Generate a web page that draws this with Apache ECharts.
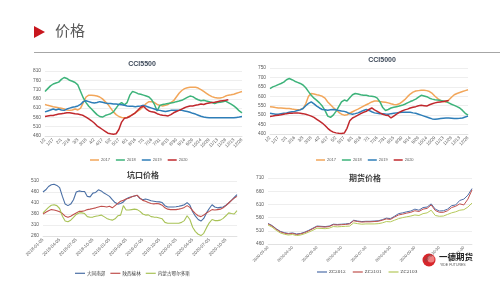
<!DOCTYPE html>
<html><head><meta charset="utf-8">
<script src="https://cdn.jsdelivr.net/npm/echarts@6/dist/echarts.min.js"></script>
<style>html,body{margin:0;padding:0;background:#fff;}#c{width:500px;height:281px;}</style>
</head><body><div id="c"></div>
<script>
// ---- Top charts: categories every 5 days ----
const dayCats = ["1/2","1/7","1/12","1/17","1/22","1/27","2/1","2/6","2/11","2/16","2/21","2/26","3/3","3/8","3/13","3/18","3/23","3/28","4/2","4/7","4/12","4/17","4/22","4/27","5/2","5/7","5/12","5/17","5/22","5/27","6/1","6/6","6/11","6/16","6/21","6/26","7/1","7/6","7/11","7/16","7/21","7/26","7/31","8/5","8/10","8/15","8/20","8/25","8/30","9/4","9/9","9/14","9/19","9/24","9/29","10/4","10/9","10/14","10/19","10/24","10/29","11/3","11/8","11/13","11/18","11/23","11/28","12/3","12/8","12/13","12/18","12/23","12/28"];
const yearNames = ["2017","2018","2019","2020"];

const cci5500_2017 = [630,625,622,618,615,612,610,605,600,598,600,605,600,610,640,670,680,680,678,675,670,660,645,630,610,590,575,565,560,558,560,568,575,585,595,605,620,635,645,645,640,630,625,622,625,630,640,650,670,690,705,715,720,722,722,722,718,710,700,690,680,672,667,665,665,668,675,680,682,685,690,695,700];
const cci5500_2018 = [700,715,730,740,745,750,765,775,770,760,755,748,735,700,665,640,620,605,590,575,565,562,570,575,580,590,610,630,640,628,640,680,700,695,688,685,680,675,670,655,630,595,625,630,632,635,638,640,645,648,652,660,668,675,672,662,655,650,652,648,645,640,635,640,642,645,648,640,632,622,610,595,585];
const cci5500_2019 = [590,595,600,605,600,605,600,598,605,610,615,618,622,630,645,650,645,640,638,640,645,642,638,635,635,632,632,630,628,625,622,620,620,618,620,622,625,620,615,610,605,600,598,595,592,595,598,598,598,598,598,595,592,588,582,578,572,566,562,560,558,558,558,558,558,558,558,558,558,558,560,562,565];
const cci5500_2020 = [565,568,570,570,575,578,580,582,585,585,583,580,578,575,570,562,552,542,530,515,505,495,485,475,472,470,472,495,535,555,558,565,575,585,600,615,620,605,595,590,588,580,575,572,570,568,575,585,592,598,605,612,618,622,622,625,628,632,630,635,638,640,642,645,648,650,652,655,null,null,null,null,null];

const cci5000_2017 = [545,543,540,538,538,537,535,535,532,530,528,530,535,560,600,615,612,608,605,600,590,570,555,540,528,515,505,500,502,510,518,525,532,540,548,555,562,570,575,575,572,570,568,565,560,556,555,560,570,582,598,612,622,628,630,632,632,630,625,615,600,588,578,572,570,580,595,608,615,620,625,630,635];
const cci5000_2018 = [641,650,655,662,668,675,688,694,688,680,674,668,660,645,625,605,590,578,565,548,525,495,488,500,520,545,570,580,575,592,608,615,612,608,605,605,602,600,598,590,570,540,525,530,538,542,545,548,552,558,565,572,578,585,595,605,602,598,590,585,582,580,578,575,572,565,558,552,545,538,525,510,500];
const cci5000_2019 = [510,508,505,505,508,510,512,515,518,520,525,528,535,550,562,570,560,548,538,530,528,526,528,530,528,525,522,520,515,508,505,508,512,518,525,530,525,518,512,510,508,508,506,505,508,510,512,514,515,515,515,515,512,510,505,500,495,490,485,480,478,480,482,484,485,485,484,482,482,483,485,490,495];
const cci5000_2020 = [493,495,498,500,502,505,508,510,510,512,512,510,508,505,500,495,488,478,468,458,445,430,418,410,406,404,403,405,430,470,485,492,500,508,515,520,530,538,528,520,512,505,500,498,485,495,505,515,522,528,532,538,542,545,550,552,550,548,555,560,565,568,570,572,575,578,null,null,null,null,null,null,null];

// ---- Bottom-left: 坑口价格 (semi-monthly, 5th & 20th) ----
const pitYears = ["2018","2019","2020"];
const pitMonths = ["01","02","03","04","05","06","07","08","09","10","11","12"];
const pitDays = ["05","20"];
const pitCats = [];
pitYears.forEach(y => pitMonths.forEach(m => pitDays.forEach(d => pitCats.push(y + "-" + m + "-" + d))));
pitCats.length = 71; // through 2020-12-05
const pitNames = ["大同南郊","陕西榆林","内蒙古鄂尔多斯"];
const pitDatong = [460,470,485,493,495,490,480,440,405,398,405,425,460,465,462,462,440,438,455,458,470,465,455,448,440,425,412,405,408,415,428,435,438,442,445,430,425,428,425,420,418,416,415,412,398,392,392,392,393,395,398,402,412,400,370,350,335,328,340,365,385,402,392,388,390,392,400,410,422,435,448];
const pitYulin = [360,368,375,380,378,375,370,362,350,345,350,358,365,372,372,375,380,382,385,388,392,395,394,392,395,388,398,408,418,422,428,432,438,442,445,432,422,418,412,408,406,408,406,400,388,382,380,380,380,382,385,390,398,390,375,362,352,348,355,365,372,380,378,380,382,388,398,410,422,432,440];
const pitOrdos = [365,378,390,400,402,398,385,350,328,325,332,345,358,365,365,362,348,345,346,350,352,355,348,340,335,332,338,352,355,398,378,378,380,382,380,372,360,355,356,348,346,345,342,338,322,318,318,318,318,318,322,330,352,335,300,280,268,262,272,298,320,335,330,330,332,340,352,365,362,360,375];

// ---- Bottom-right: 期货价格 ----
const futMonths = ["04","05","06","07","08","09","10","11"];
const futDays = ["05","10","15","20","25","30"];
const futCats = ["2020-03-30"];
futMonths.forEach(m => futDays.forEach(d => futCats.push("2020-" + m + "-" + d)));
futCats.push("2020-12-05","2020-12-10");
const futNames = ["ZC2012","ZC2101","ZC2103"];
const zc2012 = [538,530,518,508,503,500,502,498,500,505,512,520,528,527,526,528,535,534,535,536,538,550,547,545,546,546,547,548,552,558,556,565,575,578,582,585,592,588,598,600,612,592,585,586,592,605,608,625,630,645,670];
const zc2101 = [536,528,516,506,501,498,500,496,498,503,510,518,526,525,524,526,533,532,533,534,536,548,545,543,544,544,545,546,550,555,553,562,570,573,577,580,586,583,592,595,608,587,580,580,586,598,603,612,608,630,665];
const zc2103 = [532,524,512,502,497,494,496,492,494,499,505,512,520,519,518,520,526,525,526,527,528,540,537,535,536,536,536,537,540,545,544,550,556,560,563,566,570,568,575,578,588,568,565,566,572,578,582,588,590,600,615];

const yearColors = ["#F2A65A","#3DB37A","#2E7EB8","#C0282D"];
const pitColors = ["#4A6FA5","#C0504D","#A8C256"];
const futColors = ["#4F6EA8","#C0504D","#B5C95A"];

const chart = echarts.init(document.getElementById('c'));
const lblColor = '#595959';
const gridLine = {show:true, lineStyle:{color:'#e3e3e3', width:0.6}};

function xCat(gi, cats, interval, size) {
  return {type:'category', gridIndex:gi, data:cats, boundaryGap:false,
    axisLine:{lineStyle:{color:'#d9d9d9', width:0.6}}, axisTick:{show:false},
    axisLabel:{rotate:45, fontSize:size||4.5, color:lblColor, interval:interval, margin:3, fontFamily:'Liberation Sans'}};
}
function yVal(gi, min, max) {
  return {type:'value', gridIndex:gi, min:min, max:max, interval:50,
    axisLine:{show:false}, axisTick:{show:false}, splitLine:gridLine,
    axisLabel:{fontSize:4.8, color:lblColor, margin:4, fontFamily:'Liberation Sans'}};
}
function ln(name, data, color, xi, w) {
  return {name:name, type:'line', data:data, xAxisIndex:xi, yAxisIndex:xi, showSymbol:false, symbol:'none',
    lineStyle:{color:color, width:w}, itemStyle:{color:color}, connectNulls:false, animation:false};
}

const series = [];
[cci5500_2017,cci5500_2018,cci5500_2019,cci5500_2020].forEach((d,i)=>series.push(ln(yearNames[i], d, yearColors[i], 0, 1.5)));
[cci5000_2017,cci5000_2018,cci5000_2019,cci5000_2020].forEach((d,i)=>series.push(ln(yearNames[i], d, yearColors[i], 1, 1.5)));
[pitDatong,pitYulin,pitOrdos].forEach((d,i)=>series.push(ln(pitNames[i], d, pitColors[i], 2, 1.1)));
[zc2012,zc2101,zc2103].forEach((d,i)=>series.push(ln(futNames[i], d, futColors[i], 3, 1)));

const legendBase = {itemWidth:9, itemHeight:1.5, itemGap:6, icon:'rect', selectedMode:false, padding:0,
  textStyle:{fontSize:4, color:lblColor, padding:[0,0,0,-3], fontFamily:'Liberation Sans'}};

chart.setOption({
  animation:false,
  title:[
    {text:'CCI5500', left:137, top:56, textAlign:'center', textStyle:{fontSize:7, fontWeight:'bold', color:'#3e4a5a', fontFamily:'Liberation Sans'}},
    {text:'CCI5000', left:377, top:52, textAlign:'center', textStyle:{fontSize:7, fontWeight:'bold', color:'#3e4a5a', fontFamily:'Liberation Sans'}},
    {text:'坑口价格', left:138, top:166, textAlign:'center', textStyle:{fontSize:8, fontWeight:'bold', color:'#404040', fontFamily:'Noto Sans CJK SC'}},
    {text:'期货价格', left:360, top:169, textAlign:'center', textStyle:{fontSize:8, fontWeight:'bold', color:'#404040', fontFamily:'Noto Sans CJK SC'}}
  ],
  legend:[
    Object.assign({}, legendBase, {data:yearNames, top:158, left:90}),
    Object.assign({}, legendBase, {data:yearNames, top:158, left:316}),
    Object.assign({}, legendBase, {data:pitNames, top:271, left:75, itemWidth:10, itemHeight:1.2, itemGap:5, textStyle:{fontSize:4.6, color:'#404040', padding:[0,0,0,-3], fontFamily:'Noto Sans CJK SC'}}),
    Object.assign({}, legendBase, {data:futNames, top:270, left:317, itemWidth:10, itemHeight:1.2, itemGap:7, textStyle:{fontSize:4.2, color:'#404040', padding:[0,0,0,-3], fontFamily:'DejaVu Serif'}})
  ],
  grid:[
    {left:45, top:71, width:197, height:65},
    {left:270, top:68, width:198, height:66},
    {left:43, top:181, width:194, height:55},
    {left:268, top:178, width:204, height:66}
  ],
  xAxis:[
    xCat(0, dayCats, 2),
    xCat(1, dayCats, 2),
    xCat(2, pitCats, 5),
    xCat(3, futCats, (idx, val) => val.endsWith('-30'), 4)
  ],
  yAxis:[yVal(0,460,810), yVal(1,400,750), yVal(2,260,510), yVal(3,460,710)],
  series:series,
  graphic:[
    {type:'polygon', shape:{points:[[34,26],[45,32],[34,38]]}, style:{fill:'#C8161D'}},
    {type:'text', left:55, top:23, style:{text:'价格', fontSize:15, fill:'#595959', fontFamily:'Noto Sans CJK SC'}},
    {type:'rect', shape:{x:34, y:52, width:466, height:1}, style:{fill:'#a6a6a6'}},
    {type:'circle', shape:{cx:429, cy:260, r:6.5}, style:{fill:'#D7262B'}},
    {type:'circle', shape:{cx:431, cy:259, r:3.5}, style:{fill:'#F08080'}},
    {type:'text', left:439, top:253, style:{text:'一德期货', fontSize:8.5, fontWeight:'bold', fill:'#222', fontFamily:'Noto Sans CJK SC'}},
    {type:'text', left:440, top:263, style:{text:'YIDE FUTURES', fontSize:3.5, fill:'#555', fontFamily:'Liberation Sans'}}
  ]
});
</script></body></html>
